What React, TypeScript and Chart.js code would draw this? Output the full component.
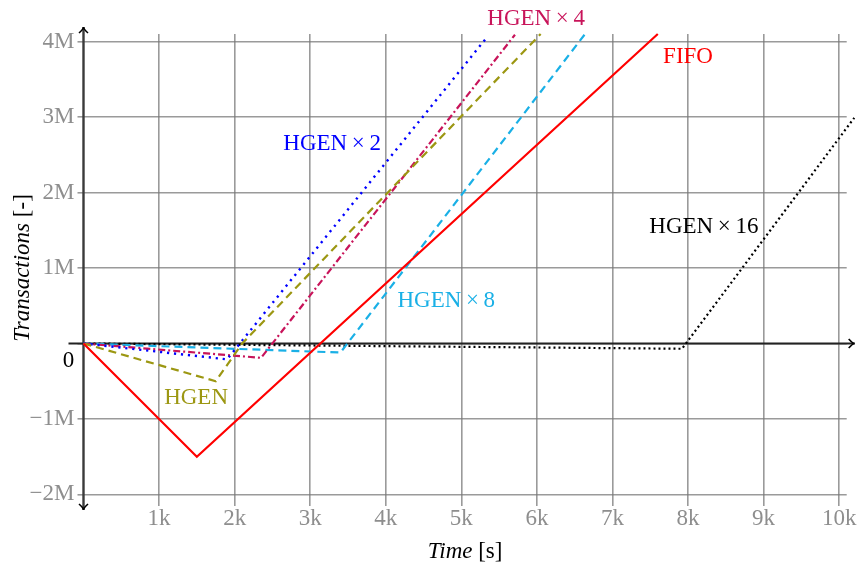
import React, { useEffect, useRef } from 'react';
import { Chart, registerables } from 'chart.js';
Chart.register(...registerables);

// ---- data (time in seconds, transactions) ----
const fifoX = [0, 1500, 7600];
const fifoY = [0, -1500000, 4100000];
const hgenX = [0, 1750, 2100, 6050];
const hgenY = [0, -500000, 0, 4100000];
const hgen2X = [0, 1900, 5350];
const hgen2Y = [0, -210000, 4070000];
const hgen4X = [0, 2350, 5710];
const hgen4Y = [0, -190000, 4090000];
const hgen8X = [0, 3400, 6630];
const hgen8Y = [0, -120000, 4090000];
const hgen16X = [0, 7920, 10200];
const hgen16Y = [0, -70000, 2990000];

const xTicks = [1000, 2000, 3000, 4000, 5000, 6000, 7000, 8000, 9000, 10000];
const yTicks = [-2000000, -1000000, 0, 1000000, 2000000, 3000000, 4000000];

const seriesNames = ['FIFO', 'HGEN', 'HGEN\u2009×\u20092', 'HGEN\u2009×\u20094', 'HGEN\u2009×\u20098', 'HGEN\u2009×\u200916'];
const seriesColors = ['#ff0000', '#9c9712', '#0000ff', '#c8145a', '#1ab0e6', '#000000'];
const labelX = [8000, 1490, 3290, 5990, 4800, 8210];
const labelY = [3800000, -720000, 2640000, 4300000, 560000, 1540000];

const FONT = '"Liberation Serif", "Times New Roman", serif';

function pts(xs: number[], ys: number[]) {
  return xs.map((x, i) => ({ x, y: ys[i] }));
}

function arrowHead(ctx: CanvasRenderingContext2D, tx: number, ty: number, dx: number, dy: number) {
  const back = 6, half = 4.5;
  const px = -dy, py = dx;
  ctx.beginPath();
  ctx.moveTo(tx - dx * back + px * half, ty - dy * back + py * half);
  ctx.quadraticCurveTo(tx - dx * 2, ty - dy * 2, tx, ty);
  ctx.quadraticCurveTo(tx - dx * 2, ty - dy * 2, tx - dx * back - px * half, ty - dy * back - py * half);
  ctx.stroke();
}

const overlay = {
  id: 'overlay',
  beforeDatasetsDraw(chart: any) {
    const { ctx, chartArea, scales } = chart;
    const x = scales.x, y = scales.y;
    const x0 = x.getPixelForValue(0);
    const y0 = y.getPixelForValue(0);
    ctx.save();
    ctx.lineCap = 'butt';
    ctx.strokeStyle = '#3a3a3a';
    ctx.lineWidth = 2.4;
    ctx.beginPath();
    ctx.moveTo(x0, chartArea.top - 7);
    ctx.lineTo(x0, chartArea.bottom + 8);
    ctx.stroke();
    ctx.strokeStyle = '#000';
    ctx.lineWidth = 1.6;
    arrowHead(ctx, x0, chartArea.top - 7, 0, -1);
    arrowHead(ctx, x0, chartArea.bottom + 8, 0, 1);
    ctx.strokeStyle = '#222';
    ctx.lineWidth = 2;
    ctx.beginPath();
    ctx.moveTo(x0 - 15, y0);
    ctx.lineTo(chartArea.right + 8, y0);
    ctx.stroke();
    ctx.lineWidth = 1.6;
    ctx.strokeStyle = '#000';
    arrowHead(ctx, chartArea.right + 8, y0, 1, 0);
    ctx.restore();
  },
  afterDatasetsDraw(chart: any) {
    const { ctx, chartArea, scales } = chart;
    const x = scales.x, y = scales.y;
    ctx.save();
    ctx.font = `23px ${FONT}`;
    ctx.textAlign = 'center';
    ctx.textBaseline = 'middle';
    seriesNames.forEach((name, i) => {
      ctx.fillStyle = seriesColors[i];
      ctx.fillText(name, x.getPixelForValue(labelX[i]), y.getPixelForValue(labelY[i]));
    });
    ctx.fillStyle = '#000';
    ctx.fillText('0', x.getPixelForValue(0) - 15, y.getPixelForValue(0) + 17);

    const cx = (chartArea.left + chartArea.right) / 2;
    const ty = chartArea.bottom + 50;
    ctx.textAlign = 'left';
    ctx.font = `italic 23px ${FONT}`;
    const w1 = ctx.measureText('Time').width;
    ctx.font = `23px ${FONT}`;
    const w2 = ctx.measureText(' [s]').width;
    let sx = cx - (w1 + w2) / 2;
    ctx.font = `italic 23px ${FONT}`;
    ctx.fillText('Time', sx, ty);
    ctx.font = `23px ${FONT}`;
    ctx.fillText(' [s]', sx + w1, ty);

    const cy = (chartArea.top + chartArea.bottom) / 2;
    ctx.translate(23, cy);
    ctx.rotate(-Math.PI / 2);
    ctx.font = `italic 23px ${FONT}`;
    const v1 = ctx.measureText('Transactions').width;
    ctx.font = `23px ${FONT}`;
    const v2 = ctx.measureText(' [-]').width;
    sx = -(v1 + v2) / 2;
    ctx.font = `italic 23px ${FONT}`;
    ctx.fillText('Transactions', sx, 0);
    ctx.font = `23px ${FONT}`;
    ctx.fillText(' [-]', sx + v1, 0);
    ctx.restore();
  },
};

export default function App() {
  const ref = useRef<HTMLCanvasElement | null>(null);
  useEffect(() => {
    if (!ref.current) return;
    const mk = (i: number, data: { x: number; y: number }[], dash: number[], width = 2) => ({
      label: seriesNames[i],
      data,
      borderColor: seriesColors[i],
      backgroundColor: seriesColors[i],
      borderWidth: width,
      borderDash: dash,
      showLine: true,
      pointRadius: 0,
      fill: false,
      tension: 0,
      clip: false as any,
    });
    const chart = new Chart(ref.current, {
      type: 'scatter',
      data: {
        datasets: [
          mk(0, pts(fifoX, fifoY), [], 2.2),
          mk(1, pts(hgenX, hgenY), [8, 5], 2.2),
          mk(2, pts(hgen2X, hgen2Y), [2.2, 4.8], 2.4),
          mk(3, pts(hgen4X, hgen4Y), [7, 3, 2, 3], 2.2),
          mk(4, pts(hgen8X, hgen8Y), [8, 5], 2.2),
          mk(5, pts(hgen16X, hgen16Y), [2, 3], 2.2),
        ],
      },
      options: {
        responsive: false,
        animation: false,
        devicePixelRatio: 1,
        layout: { padding: { left: 0, right: 15.3, top: 34, bottom: 0 } },
        plugins: { legend: { display: false }, tooltip: { enabled: false } },
        scales: {
          x: {
            type: 'linear',
            min: 0,
            max: 10100,
            afterBuildTicks: (s: any) => { s.ticks = xTicks.map((v) => ({ value: v })); },
            afterFit: (s: any) => { s.height = 74; s.paddingLeft = 0; s.paddingRight = 0; },
            border: { display: false },
            grid: { color: 'rgba(120,120,120,0.75)', lineWidth: 1.6, tickLength: 4 },
            ticks: {
              color: '#8e8e8e',
              font: { family: FONT, size: 23 },
              padding: -1,
              maxRotation: 0,
              autoSkip: false,
              callback: (v: any) => `${Number(v) / 1000}k`,
            },
          },
          y: {
            type: 'linear',
            min: -2100000,
            max: 4100000,
            afterBuildTicks: (s: any) => { s.ticks = yTicks.map((v) => ({ value: v })); },
            afterFit: (s: any) => { s.width = 83.5; s.paddingTop = 0; s.paddingBottom = 0; },
            border: { display: false },
            grid: { color: 'rgba(120,120,120,0.75)', lineWidth: 1.6, tickLength: 6 },
            ticks: {
              color: '#8e8e8e',
              font: { family: FONT, size: 23 },
              padding: 3,
              autoSkip: false,
              callback: (v: any) => {
                const n = Number(v);
                if (n === 0) return '';
                return (n < 0 ? '\u2212' : '') + Math.abs(n) / 1000000 + 'M';
              },
            },
          },
        },
      },
      plugins: [overlay],
    });
    return () => chart.destroy();
  }, []);
  return (
    <div style={{ position: 'absolute', left: 0, top: 0, width: 862, height: 576, background: '#fff' }}>
      <canvas ref={ref} width={862} height={576} />
    </div>
  );
}
